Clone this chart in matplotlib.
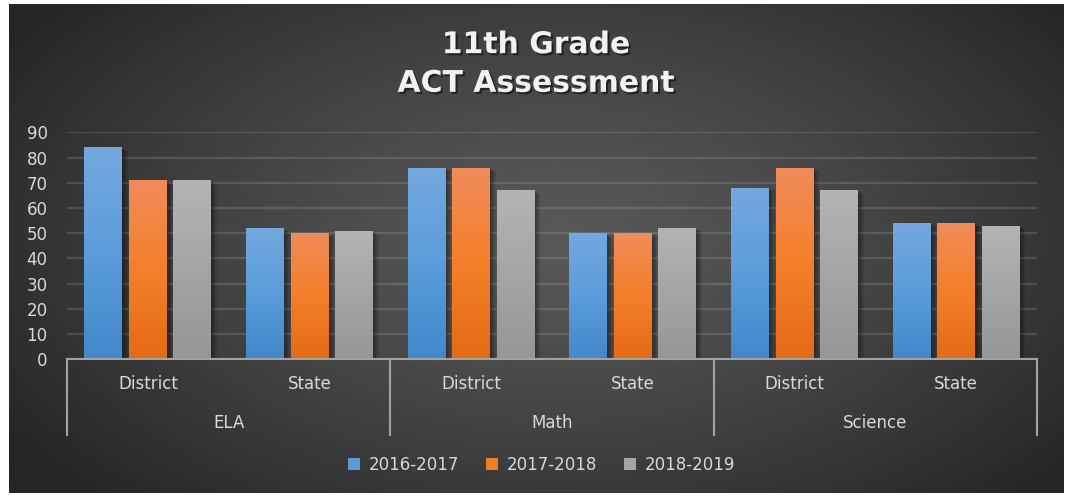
import numpy as np
import matplotlib
matplotlib.use("Agg")
import matplotlib.pyplot as plt
import matplotlib.patheffects as pe
from matplotlib.colors import LinearSegmentedColormap
from matplotlib.patches import Patch
from matplotlib.transforms import blended_transform_factory

# data
groups = ["ELA", "Math", "Science"]
subcats = ["District", "State"]
seasons = ["2016-2017", "2017-2018", "2018-2019"]
s2016 = [84, 52, 76, 50, 68, 54]
s2017 = [71, 50, 76, 50, 76, 54]
s2018 = [71, 51, 67, 52, 67, 53]
yticks = [0, 10, 20, 30, 40, 50, 60, 70, 80, 90]

# gradient stops per series: bottom, middle, top
grad_colors = [
    ["#4388ca", "#5b9ddb", "#74a8de"],
    ["#e46b16", "#f57f2a", "#f08c5b"],
    ["#969696", "#a5a5a5", "#b4b4b4"],
]
solid_colors = ["#5b9bd5", "#f27c2a", "#a5a5a5"]
txt_col = "#d9d9d9"
line_col = "#a3a3a3"

W, H = 1072, 495
fig = plt.figure(figsize=(W / 100, H / 100), dpi=100, facecolor="white")

# dark radial background
bg = fig.add_axes([9 / W, 2 / H, (1064 - 9) / W, (491 - 2) / H], zorder=-1)
yy, xx = np.mgrid[0:1:300j, 0:1:600j]
r = np.sqrt(((xx - 0.52) / 0.62) ** 2 + ((yy - 0.52) / 0.75) ** 2)
r = np.clip(r, 0, 1)
c0, c1 = 0x58 / 255, 0x26 / 255
shade = c0 + (c1 - c0) * r ** 1.3
bg.imshow(np.dstack([shade, shade, shade]), extent=[0, 1, 0, 1], aspect="auto", origin="lower")
bg.axis("off")

ax = fig.add_axes([67 / W, (H - 359.3) / H, 970 / W, 227 / H])
ax.set_facecolor("none")

# soft shadow: a few faint offset copies
soft_shadow = [pe.SimplePatchShadow(offset=(d, -d * 0.6), shadow_rgbFace="black", alpha=0.1)
               for d in (1, 2, 3, 4)] + [pe.Normal()]

x = np.arange(len(groups) * len(subcats))
step, width = 0.275, 0.235
grad = np.linspace(0, 1, 256).reshape(-1, 1)
for i, (vals, gc) in enumerate(zip([s2016, s2017, s2018], grad_colors)):
    bars = ax.bar(x + (i - 1) * step, vals, width, color=solid_colors[i], zorder=3,
                  path_effects=soft_shadow)
    cmap = LinearSegmentedColormap.from_list(f"g{i}", gc)
    for b in bars:
        im = ax.imshow(grad, extent=[b.get_x(), b.get_x() + b.get_width(), 0, b.get_height()],
                       aspect="auto", origin="lower", cmap=cmap, zorder=4)
        im.set_clip_path(b)

ax.set_xlim(-0.5, len(x) - 0.5)
ax.set_ylim(0, 90)
ax.set_yticks(yticks)
ax.tick_params(axis="y", length=0, pad=14, labelsize=12, labelcolor=txt_col)
ax.set_xticks([])
for s in ["top", "right", "left"]:
    ax.spines[s].set_visible(False)
ax.spines["bottom"].set_color(line_col)
ax.spines["bottom"].set_linewidth(1.5)
ax.spines["bottom"].set_zorder(5)
ax.yaxis.grid(True, color="white", alpha=0.13, linewidth=1.6, zorder=0)
ax.set_axisbelow(True)

# two-level category axis
tr = blended_transform_factory(ax.transData, ax.transAxes)
for j, xi in enumerate(x):
    ax.text(xi, -0.109, subcats[j % len(subcats)], transform=tr, ha="center", va="center",
            fontsize=12, color=txt_col)
for g, name in enumerate(groups):
    xc = g * len(subcats) + (len(subcats) - 1) / 2
    ax.text(xc, -0.281, name, transform=tr, ha="center", va="center", fontsize=12, color=txt_col)
for sep in np.arange(len(groups) + 1) * len(subcats) - 0.5:
    ax.plot([sep, sep], [0, -0.333], transform=tr, color=line_col, lw=1.5, clip_on=False)

fig.text(0.5, 1 - 64 / H, "11th Grade\nACT Assessment", ha="center", va="center",
         fontsize=21.5, fontweight="bold", color="#f2f2f2", linespacing=1.42,
         path_effects=[pe.withSimplePatchShadow(offset=(1.5, -1.5), shadow_rgbFace="black", alpha=0.5)])

handles = [Patch(facecolor=c, edgecolor="none") for c in solid_colors]
fig.legend(handles, seasons, loc="center", bbox_to_anchor=(0.505, 1 - 465 / H), ncol=3,
           frameon=False, fontsize=12, labelcolor=txt_col, handlelength=0.75, handleheight=0.75,
           handletextpad=0.5, columnspacing=1.6)

fig.savefig("out.png", dpi=100, facecolor="white")
